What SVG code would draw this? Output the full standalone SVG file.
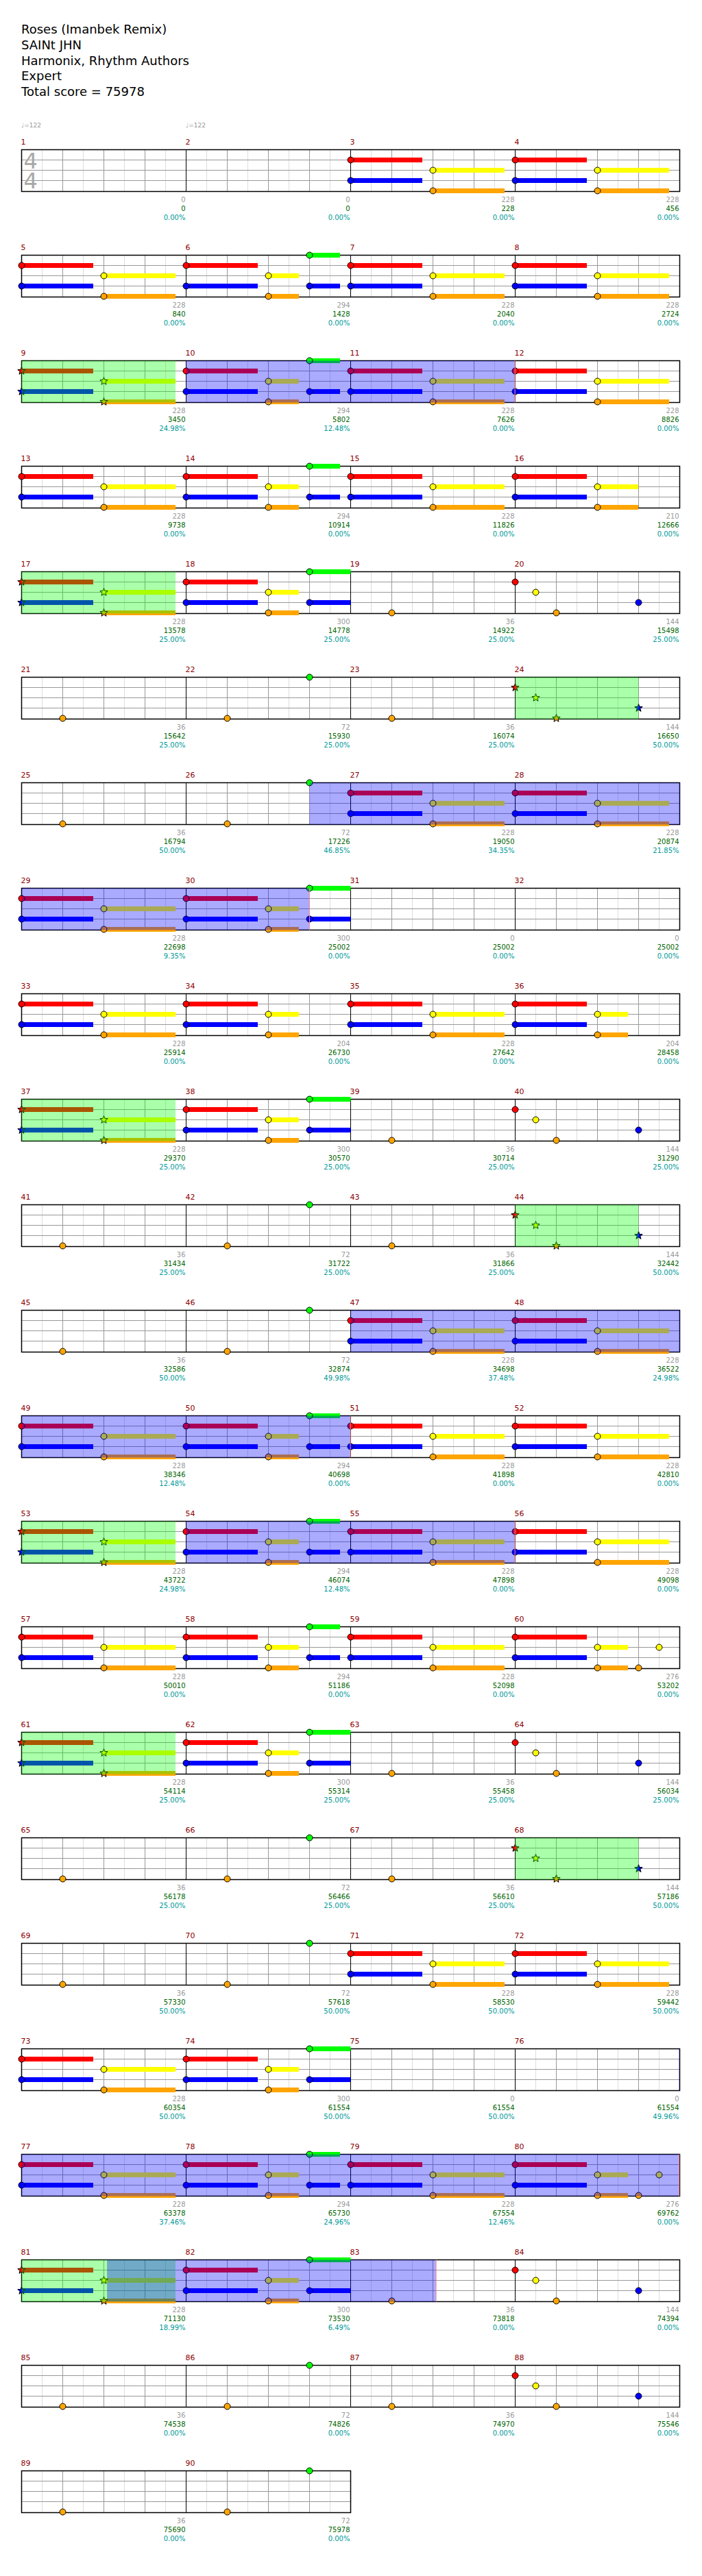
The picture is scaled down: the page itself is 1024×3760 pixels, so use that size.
<svg xmlns="http://www.w3.org/2000/svg" xmlns:xlink="http://www.w3.org/1999/xlink" width="1024" height="3760" viewBox="0 0 1024 3760">
<style>
text{font-family:"DejaVu Sans","Liberation Sans",sans-serif}
.hd{font-size:18px;fill:#000}
.tm{font-size:9px;fill:#999}
.ts{font-size:32px;fill:#a8a8a8}
.mn{font-size:11px;fill:#8b0000}
.s1,.s2,.s3{font-size:10px;text-anchor:end}
.s1{fill:#999}
.s2{fill:#006400}
.s3{fill:#009999}
.lt{stroke:#ddd;stroke-width:1;fill:none}
.dk{stroke:#999;stroke-width:1;fill:none}
.bar{stroke:#000;stroke-width:1;fill:none}
.frame{fill:none;stroke:#000;stroke-width:1.5}
.G{fill:#0f0}.R{fill:#f00}.Y{fill:#ff0}.B{fill:#00f}.O{fill:#ffa500}
circle,.st{stroke:#000;stroke-width:1}
.sp{fill:#0f0;fill-opacity:0.333}
.act{fill:#00f;fill-opacity:0.333}
.ae{stroke:#f88;stroke-width:1}
</style>
<defs>
<path id="star" d="M0,-6L1.47,-2.02L5.71,-1.85L2.38,0.77L3.53,4.85L0,2.5L-3.53,4.85L-2.38,0.77L-5.71,-1.85L-1.47,-2.02Z"/>
<g id="mg">
<path class="lt" d="M30 0V61M90 0V61M150 0V61M210 0V61"/>
<path class="dk" d="M60 0V61M120 0V61M180 0V61M0 15H240M0 30H240M0 45H240"/>
</g>
<g id="grid4">
<use href="#mg"/><use href="#mg" x="240"/><use href="#mg" x="480"/><use href="#mg" x="720"/>
<path class="bar" d="M240 0V61M480 0V61M720 0V61"/>
<rect class="frame" x="0" y="0" width="960" height="61"/>
</g>
<g id="grid2">
<use href="#mg"/><use href="#mg" x="240"/>
<path class="bar" d="M240 0V61"/>
<rect class="frame" x="0" y="0" width="480" height="61"/>
</g>
<g id="susA">
<rect class="R" x="0" y="11.5" width="104.5" height="7"/>
<rect class="B" x="0" y="41.5" width="104.5" height="7"/>
<rect class="Y" x="120" y="26.5" width="104.5" height="7"/>
<rect class="O" x="120" y="56.5" width="104.5" height="7"/>
</g>
<g id="pA">
<use href="#susA"/>
<circle class="R" cx="0" cy="15" r="4.5"/>
<circle class="B" cx="0" cy="45" r="4.5"/>
<circle class="Y" cx="120" cy="30" r="4.5"/>
<circle class="O" cx="120" cy="60" r="4.5"/>
</g>
<g id="pAs">
<use href="#susA"/>
<use href="#star" class="R st" x="0" y="15"/>
<use href="#star" class="B st" x="0" y="45"/>
<use href="#star" class="Y st" x="120" y="30"/>
<use href="#star" class="O st" x="120" y="60"/>
</g>
<g id="pRB">
<rect class="R" x="0" y="11.5" width="104.5" height="7"/>
<rect class="B" x="0" y="41.5" width="104.5" height="7"/>
<circle class="R" cx="0" cy="15" r="4.5"/>
<circle class="B" cx="0" cy="45" r="4.5"/>
</g>
<g id="pYO">
<rect class="Y" x="120" y="26.5" width="44.5" height="7"/>
<rect class="O" x="120" y="56.5" width="44.5" height="7"/>
<circle class="Y" cx="120" cy="30" r="4.5"/>
<circle class="O" cx="120" cy="60" r="4.5"/>
</g>
<g id="pB">
<use href="#pRB"/><use href="#pYO"/>
<rect class="G" x="180" y="-3.5" width="44.5" height="7"/>
<rect class="B" x="180" y="41.5" width="44.5" height="7"/>
<circle class="G" cx="180" cy="0" r="4.5"/>
<circle class="B" cx="180" cy="45" r="4.5"/>
</g>
<g id="pB2">
<use href="#pRB"/><use href="#pYO"/>
<rect class="G" x="180" y="-3.5" width="60" height="7"/>
<rect class="B" x="180" y="41.5" width="60" height="7"/>
<circle class="G" cx="180" cy="0" r="4.5"/>
<circle class="B" cx="180" cy="45" r="4.5"/>
</g>
<g id="pC34">
<use href="#pRB"/><use href="#pYO"/>
</g>
<g id="pC16">
<use href="#pRB"/>
<rect class="Y" x="120" y="26.5" width="59.5" height="7"/>
<rect class="O" x="120" y="56.5" width="59.5" height="7"/>
<circle class="Y" cx="120" cy="30" r="4.5"/>
<circle class="O" cx="120" cy="60" r="4.5"/>
</g>
<g id="pG">
<use href="#pRB"/><use href="#pYO"/>
<circle class="O" cx="180" cy="60" r="4.5"/>
<circle class="Y" cx="210" cy="30" r="4.5"/>
</g>
<g id="pD">
<circle class="R" cx="0" cy="15" r="4.5"/>
<circle class="Y" cx="30" cy="30" r="4.5"/>
<circle class="O" cx="60" cy="60" r="4.5"/>
<circle class="B" cx="180" cy="45" r="4.5"/>
</g>
<g id="pDs">
<use href="#star" class="R st" x="0" y="15"/>
<use href="#star" class="Y st" x="30" y="30"/>
<use href="#star" class="O st" x="60" y="60"/>
<use href="#star" class="B st" x="180" y="45"/>
</g>
<g id="pE"><circle class="O" cx="60" cy="60" r="4.5"/></g>
<g id="pF"><circle class="O" cx="60" cy="60" r="4.5"/><circle class="G" cx="180" cy="0" r="4.5"/></g>
</defs>
<rect width="1024" height="3760" fill="#fff"/>
<g id="header">
<text class="hd" x="31" y="49">Roses (Imanbek Remix)</text>
<text class="hd" x="31" y="72">SAINt JHN</text>
<text class="hd" x="31" y="94.5">Harmonix, Rhythm Authors</text>
<text class="hd" x="31" y="117">Expert</text>
<text class="hd" x="31" y="140">Total score = 75978</text>
<text class="tm" x="31" y="186">♩=122</text>
<text class="tm" x="271" y="186">♩=122</text>
</g>
<g id="connectors"></g>

<g id="row1" transform="translate(31.5,218.5)">
<use href="#grid4"/>
<text class="ts"><tspan x="3" y="27.3">4</tspan><tspan x="3" y="56.5">4</tspan></text>
<g id="m1"><text class="mn" x="-1" y="-8">1</text><text class="s1" x="239" y="76">0</text><text class="s2" x="239" y="89">0</text><text class="s3" x="239" y="102">0.00%</text></g>
<g id="m2" transform="translate(240,0)"><text class="mn" x="-1" y="-8">2</text><text class="s1" x="239" y="76">0</text><text class="s2" x="239" y="89">0</text><text class="s3" x="239" y="102">0.00%</text></g>
<g id="m3" transform="translate(480,0)"><use href="#pA"/><text class="mn" x="-1" y="-8">3</text><text class="s1" x="239" y="76">228</text><text class="s2" x="239" y="89">228</text><text class="s3" x="239" y="102">0.00%</text></g>
<g id="m4" transform="translate(720,0)"><use href="#pA"/><text class="mn" x="-1" y="-8">4</text><text class="s1" x="239" y="76">228</text><text class="s2" x="239" y="89">456</text><text class="s3" x="239" y="102">0.00%</text></g>
</g>

<g id="row2" transform="translate(31.5,372.5)">
<use href="#grid4"/>
<g id="m5"><use href="#pA"/><text class="mn" x="-1" y="-8">5</text><text class="s1" x="239" y="76">228</text><text class="s2" x="239" y="89">840</text><text class="s3" x="239" y="102">0.00%</text></g>
<g id="m6" transform="translate(240,0)"><use href="#pB"/><text class="mn" x="-1" y="-8">6</text><text class="s1" x="239" y="76">294</text><text class="s2" x="239" y="89">1428</text><text class="s3" x="239" y="102">0.00%</text></g>
<g id="m7" transform="translate(480,0)"><use href="#pA"/><text class="mn" x="-1" y="-8">7</text><text class="s1" x="239" y="76">228</text><text class="s2" x="239" y="89">2040</text><text class="s3" x="239" y="102">0.00%</text></g>
<g id="m8" transform="translate(720,0)"><use href="#pA"/><text class="mn" x="-1" y="-8">8</text><text class="s1" x="239" y="76">228</text><text class="s2" x="239" y="89">2724</text><text class="s3" x="239" y="102">0.00%</text></g>
</g>

<g id="row3" transform="translate(31.5,526.5)">
<use href="#grid4"/>
<g id="m9"><use href="#pAs"/><text class="mn" x="-1" y="-8">9</text><text class="s1" x="239" y="76">228</text><text class="s2" x="239" y="89">3450</text><text class="s3" x="239" y="102">24.98%</text></g>
<g id="m10" transform="translate(240,0)"><use href="#pB"/><text class="mn" x="-1" y="-8">10</text><text class="s1" x="239" y="76">294</text><text class="s2" x="239" y="89">5802</text><text class="s3" x="239" y="102">12.48%</text></g>
<g id="m11" transform="translate(480,0)"><use href="#pA"/><text class="mn" x="-1" y="-8">11</text><text class="s1" x="239" y="76">228</text><text class="s2" x="239" y="89">7626</text><text class="s3" x="239" y="102">0.00%</text></g>
<g id="m12" transform="translate(720,0)"><use href="#pA"/><text class="mn" x="-1" y="-8">12</text><text class="s1" x="239" y="76">228</text><text class="s2" x="239" y="89">8826</text><text class="s3" x="239" y="102">0.00%</text></g>
<rect class="sp" x="0" y="0" width="224.5" height="61"/>
<rect class="act" x="240" y="0" width="479.6" height="61"/>
<line class="ae" x1="719.6" y1="0" x2="719.6" y2="61"/>
</g>

<g id="row4" transform="translate(31.5,680.5)">
<use href="#grid4"/>
<g id="m13"><use href="#pA"/><text class="mn" x="-1" y="-8">13</text><text class="s1" x="239" y="76">228</text><text class="s2" x="239" y="89">9738</text><text class="s3" x="239" y="102">0.00%</text></g>
<g id="m14" transform="translate(240,0)"><use href="#pB"/><text class="mn" x="-1" y="-8">14</text><text class="s1" x="239" y="76">294</text><text class="s2" x="239" y="89">10914</text><text class="s3" x="239" y="102">0.00%</text></g>
<g id="m15" transform="translate(480,0)"><use href="#pA"/><text class="mn" x="-1" y="-8">15</text><text class="s1" x="239" y="76">228</text><text class="s2" x="239" y="89">11826</text><text class="s3" x="239" y="102">0.00%</text></g>
<g id="m16" transform="translate(720,0)"><use href="#pC16"/><text class="mn" x="-1" y="-8">16</text><text class="s1" x="239" y="76">210</text><text class="s2" x="239" y="89">12666</text><text class="s3" x="239" y="102">0.00%</text></g>
</g>

<g id="row5" transform="translate(31.5,834.5)">
<use href="#grid4"/>
<g id="m17"><use href="#pAs"/><text class="mn" x="-1" y="-8">17</text><text class="s1" x="239" y="76">228</text><text class="s2" x="239" y="89">13578</text><text class="s3" x="239" y="102">25.00%</text></g>
<g id="m18" transform="translate(240,0)"><use href="#pB2"/><text class="mn" x="-1" y="-8">18</text><text class="s1" x="239" y="76">300</text><text class="s2" x="239" y="89">14778</text><text class="s3" x="239" y="102">25.00%</text></g>
<g id="m19" transform="translate(480,0)"><use href="#pE"/><text class="mn" x="-1" y="-8">19</text><text class="s1" x="239" y="76">36</text><text class="s2" x="239" y="89">14922</text><text class="s3" x="239" y="102">25.00%</text></g>
<g id="m20" transform="translate(720,0)"><use href="#pD"/><text class="mn" x="-1" y="-8">20</text><text class="s1" x="239" y="76">144</text><text class="s2" x="239" y="89">15498</text><text class="s3" x="239" y="102">25.00%</text></g>
<rect class="sp" x="0" y="0" width="224.5" height="61"/>
</g>

<g id="row6" transform="translate(31.5,988.5)">
<use href="#grid4"/>
<g id="m21"><use href="#pE"/><text class="mn" x="-1" y="-8">21</text><text class="s1" x="239" y="76">36</text><text class="s2" x="239" y="89">15642</text><text class="s3" x="239" y="102">25.00%</text></g>
<g id="m22" transform="translate(240,0)"><use href="#pF"/><text class="mn" x="-1" y="-8">22</text><text class="s1" x="239" y="76">72</text><text class="s2" x="239" y="89">15930</text><text class="s3" x="239" y="102">25.00%</text></g>
<g id="m23" transform="translate(480,0)"><use href="#pE"/><text class="mn" x="-1" y="-8">23</text><text class="s1" x="239" y="76">36</text><text class="s2" x="239" y="89">16074</text><text class="s3" x="239" y="102">25.00%</text></g>
<g id="m24" transform="translate(720,0)"><use href="#pDs"/><text class="mn" x="-1" y="-8">24</text><text class="s1" x="239" y="76">144</text><text class="s2" x="239" y="89">16650</text><text class="s3" x="239" y="102">50.00%</text></g>
<rect class="sp" x="720" y="0" width="180" height="61"/>
</g>

<g id="row7" transform="translate(31.5,1142.5)">
<use href="#grid4"/>
<g id="m25"><use href="#pE"/><text class="mn" x="-1" y="-8">25</text><text class="s1" x="239" y="76">36</text><text class="s2" x="239" y="89">16794</text><text class="s3" x="239" y="102">50.00%</text></g>
<g id="m26" transform="translate(240,0)"><use href="#pF"/><text class="mn" x="-1" y="-8">26</text><text class="s1" x="239" y="76">72</text><text class="s2" x="239" y="89">17226</text><text class="s3" x="239" y="102">46.85%</text></g>
<g id="m27" transform="translate(480,0)"><use href="#pA"/><text class="mn" x="-1" y="-8">27</text><text class="s1" x="239" y="76">228</text><text class="s2" x="239" y="89">19050</text><text class="s3" x="239" y="102">34.35%</text></g>
<g id="m28" transform="translate(720,0)"><use href="#pA"/><text class="mn" x="-1" y="-8">28</text><text class="s1" x="239" y="76">228</text><text class="s2" x="239" y="89">20874</text><text class="s3" x="239" y="102">21.85%</text></g>
<rect class="act" x="420" y="0" width="540" height="61"/>
</g>

<g id="row8" transform="translate(31.5,1296.5)">
<use href="#grid4"/>
<g id="m29"><use href="#pA"/><text class="mn" x="-1" y="-8">29</text><text class="s1" x="239" y="76">228</text><text class="s2" x="239" y="89">22698</text><text class="s3" x="239" y="102">9.35%</text></g>
<g id="m30" transform="translate(240,0)"><use href="#pB2"/><text class="mn" x="-1" y="-8">30</text><text class="s1" x="239" y="76">300</text><text class="s2" x="239" y="89">25002</text><text class="s3" x="239" y="102">0.00%</text></g>
<g id="m31" transform="translate(480,0)"><text class="mn" x="-1" y="-8">31</text><text class="s1" x="239" y="76">0</text><text class="s2" x="239" y="89">25002</text><text class="s3" x="239" y="102">0.00%</text></g>
<g id="m32" transform="translate(720,0)"><text class="mn" x="-1" y="-8">32</text><text class="s1" x="239" y="76">0</text><text class="s2" x="239" y="89">25002</text><text class="s3" x="239" y="102">0.00%</text></g>
<rect class="act" x="0" y="0" width="420" height="61"/>
<line class="ae" x1="420" y1="0" x2="420" y2="61"/>
</g>

<g id="row9" transform="translate(31.5,1450.5)">
<use href="#grid4"/>
<g id="m33"><use href="#pA"/><text class="mn" x="-1" y="-8">33</text><text class="s1" x="239" y="76">228</text><text class="s2" x="239" y="89">25914</text><text class="s3" x="239" y="102">0.00%</text></g>
<g id="m34" transform="translate(240,0)"><use href="#pC34"/><text class="mn" x="-1" y="-8">34</text><text class="s1" x="239" y="76">204</text><text class="s2" x="239" y="89">26730</text><text class="s3" x="239" y="102">0.00%</text></g>
<g id="m35" transform="translate(480,0)"><use href="#pA"/><text class="mn" x="-1" y="-8">35</text><text class="s1" x="239" y="76">228</text><text class="s2" x="239" y="89">27642</text><text class="s3" x="239" y="102">0.00%</text></g>
<g id="m36" transform="translate(720,0)"><use href="#pC34"/><text class="mn" x="-1" y="-8">36</text><text class="s1" x="239" y="76">204</text><text class="s2" x="239" y="89">28458</text><text class="s3" x="239" y="102">0.00%</text></g>
</g>

<g id="row10" transform="translate(31.5,1604.5)">
<use href="#grid4"/>
<g id="m37"><use href="#pAs"/><text class="mn" x="-1" y="-8">37</text><text class="s1" x="239" y="76">228</text><text class="s2" x="239" y="89">29370</text><text class="s3" x="239" y="102">25.00%</text></g>
<g id="m38" transform="translate(240,0)"><use href="#pB2"/><text class="mn" x="-1" y="-8">38</text><text class="s1" x="239" y="76">300</text><text class="s2" x="239" y="89">30570</text><text class="s3" x="239" y="102">25.00%</text></g>
<g id="m39" transform="translate(480,0)"><use href="#pE"/><text class="mn" x="-1" y="-8">39</text><text class="s1" x="239" y="76">36</text><text class="s2" x="239" y="89">30714</text><text class="s3" x="239" y="102">25.00%</text></g>
<g id="m40" transform="translate(720,0)"><use href="#pD"/><text class="mn" x="-1" y="-8">40</text><text class="s1" x="239" y="76">144</text><text class="s2" x="239" y="89">31290</text><text class="s3" x="239" y="102">25.00%</text></g>
<rect class="sp" x="0" y="0" width="224.5" height="61"/>
</g>

<g id="row11" transform="translate(31.5,1758.5)">
<use href="#grid4"/>
<g id="m41"><use href="#pE"/><text class="mn" x="-1" y="-8">41</text><text class="s1" x="239" y="76">36</text><text class="s2" x="239" y="89">31434</text><text class="s3" x="239" y="102">25.00%</text></g>
<g id="m42" transform="translate(240,0)"><use href="#pF"/><text class="mn" x="-1" y="-8">42</text><text class="s1" x="239" y="76">72</text><text class="s2" x="239" y="89">31722</text><text class="s3" x="239" y="102">25.00%</text></g>
<g id="m43" transform="translate(480,0)"><use href="#pE"/><text class="mn" x="-1" y="-8">43</text><text class="s1" x="239" y="76">36</text><text class="s2" x="239" y="89">31866</text><text class="s3" x="239" y="102">25.00%</text></g>
<g id="m44" transform="translate(720,0)"><use href="#pDs"/><text class="mn" x="-1" y="-8">44</text><text class="s1" x="239" y="76">144</text><text class="s2" x="239" y="89">32442</text><text class="s3" x="239" y="102">50.00%</text></g>
<rect class="sp" x="720" y="0" width="180" height="61"/>
</g>

<g id="row12" transform="translate(31.5,1912.5)">
<use href="#grid4"/>
<g id="m45"><use href="#pE"/><text class="mn" x="-1" y="-8">45</text><text class="s1" x="239" y="76">36</text><text class="s2" x="239" y="89">32586</text><text class="s3" x="239" y="102">50.00%</text></g>
<g id="m46" transform="translate(240,0)"><use href="#pF"/><text class="mn" x="-1" y="-8">46</text><text class="s1" x="239" y="76">72</text><text class="s2" x="239" y="89">32874</text><text class="s3" x="239" y="102">49.98%</text></g>
<g id="m47" transform="translate(480,0)"><use href="#pA"/><text class="mn" x="-1" y="-8">47</text><text class="s1" x="239" y="76">228</text><text class="s2" x="239" y="89">34698</text><text class="s3" x="239" y="102">37.48%</text></g>
<g id="m48" transform="translate(720,0)"><use href="#pA"/><text class="mn" x="-1" y="-8">48</text><text class="s1" x="239" y="76">228</text><text class="s2" x="239" y="89">36522</text><text class="s3" x="239" y="102">24.98%</text></g>
<rect class="act" x="480" y="0" width="480" height="61"/>
</g>

<g id="row13" transform="translate(31.5,2066.5)">
<use href="#grid4"/>
<g id="m49"><use href="#pA"/><text class="mn" x="-1" y="-8">49</text><text class="s1" x="239" y="76">228</text><text class="s2" x="239" y="89">38346</text><text class="s3" x="239" y="102">12.48%</text></g>
<g id="m50" transform="translate(240,0)"><use href="#pB"/><text class="mn" x="-1" y="-8">50</text><text class="s1" x="239" y="76">294</text><text class="s2" x="239" y="89">40698</text><text class="s3" x="239" y="102">0.00%</text></g>
<g id="m51" transform="translate(480,0)"><use href="#pA"/><text class="mn" x="-1" y="-8">51</text><text class="s1" x="239" y="76">228</text><text class="s2" x="239" y="89">41898</text><text class="s3" x="239" y="102">0.00%</text></g>
<g id="m52" transform="translate(720,0)"><use href="#pA"/><text class="mn" x="-1" y="-8">52</text><text class="s1" x="239" y="76">228</text><text class="s2" x="239" y="89">42810</text><text class="s3" x="239" y="102">0.00%</text></g>
<rect class="act" x="0" y="0" width="479.6" height="61"/>
<line class="ae" x1="479.6" y1="0" x2="479.6" y2="61"/>
</g>

<g id="row14" transform="translate(31.5,2220.5)">
<use href="#grid4"/>
<g id="m53"><use href="#pAs"/><text class="mn" x="-1" y="-8">53</text><text class="s1" x="239" y="76">228</text><text class="s2" x="239" y="89">43722</text><text class="s3" x="239" y="102">24.98%</text></g>
<g id="m54" transform="translate(240,0)"><use href="#pB"/><text class="mn" x="-1" y="-8">54</text><text class="s1" x="239" y="76">294</text><text class="s2" x="239" y="89">46074</text><text class="s3" x="239" y="102">12.48%</text></g>
<g id="m55" transform="translate(480,0)"><use href="#pA"/><text class="mn" x="-1" y="-8">55</text><text class="s1" x="239" y="76">228</text><text class="s2" x="239" y="89">47898</text><text class="s3" x="239" y="102">0.00%</text></g>
<g id="m56" transform="translate(720,0)"><use href="#pA"/><text class="mn" x="-1" y="-8">56</text><text class="s1" x="239" y="76">228</text><text class="s2" x="239" y="89">49098</text><text class="s3" x="239" y="102">0.00%</text></g>
<rect class="sp" x="0" y="0" width="224.5" height="61"/>
<rect class="act" x="240" y="0" width="479.6" height="61"/>
<line class="ae" x1="719.6" y1="0" x2="719.6" y2="61"/>
</g>

<g id="row15" transform="translate(31.5,2374.5)">
<use href="#grid4"/>
<g id="m57"><use href="#pA"/><text class="mn" x="-1" y="-8">57</text><text class="s1" x="239" y="76">228</text><text class="s2" x="239" y="89">50010</text><text class="s3" x="239" y="102">0.00%</text></g>
<g id="m58" transform="translate(240,0)"><use href="#pB"/><text class="mn" x="-1" y="-8">58</text><text class="s1" x="239" y="76">294</text><text class="s2" x="239" y="89">51186</text><text class="s3" x="239" y="102">0.00%</text></g>
<g id="m59" transform="translate(480,0)"><use href="#pA"/><text class="mn" x="-1" y="-8">59</text><text class="s1" x="239" y="76">228</text><text class="s2" x="239" y="89">52098</text><text class="s3" x="239" y="102">0.00%</text></g>
<g id="m60" transform="translate(720,0)"><use href="#pG"/><text class="mn" x="-1" y="-8">60</text><text class="s1" x="239" y="76">276</text><text class="s2" x="239" y="89">53202</text><text class="s3" x="239" y="102">0.00%</text></g>
</g>

<g id="row16" transform="translate(31.5,2528.5)">
<use href="#grid4"/>
<g id="m61"><use href="#pAs"/><text class="mn" x="-1" y="-8">61</text><text class="s1" x="239" y="76">228</text><text class="s2" x="239" y="89">54114</text><text class="s3" x="239" y="102">25.00%</text></g>
<g id="m62" transform="translate(240,0)"><use href="#pB2"/><text class="mn" x="-1" y="-8">62</text><text class="s1" x="239" y="76">300</text><text class="s2" x="239" y="89">55314</text><text class="s3" x="239" y="102">25.00%</text></g>
<g id="m63" transform="translate(480,0)"><use href="#pE"/><text class="mn" x="-1" y="-8">63</text><text class="s1" x="239" y="76">36</text><text class="s2" x="239" y="89">55458</text><text class="s3" x="239" y="102">25.00%</text></g>
<g id="m64" transform="translate(720,0)"><use href="#pD"/><text class="mn" x="-1" y="-8">64</text><text class="s1" x="239" y="76">144</text><text class="s2" x="239" y="89">56034</text><text class="s3" x="239" y="102">25.00%</text></g>
<rect class="sp" x="0" y="0" width="224.5" height="61"/>
</g>

<g id="row17" transform="translate(31.5,2682.5)">
<use href="#grid4"/>
<g id="m65"><use href="#pE"/><text class="mn" x="-1" y="-8">65</text><text class="s1" x="239" y="76">36</text><text class="s2" x="239" y="89">56178</text><text class="s3" x="239" y="102">25.00%</text></g>
<g id="m66" transform="translate(240,0)"><use href="#pF"/><text class="mn" x="-1" y="-8">66</text><text class="s1" x="239" y="76">72</text><text class="s2" x="239" y="89">56466</text><text class="s3" x="239" y="102">25.00%</text></g>
<g id="m67" transform="translate(480,0)"><use href="#pE"/><text class="mn" x="-1" y="-8">67</text><text class="s1" x="239" y="76">36</text><text class="s2" x="239" y="89">56610</text><text class="s3" x="239" y="102">25.00%</text></g>
<g id="m68" transform="translate(720,0)"><use href="#pDs"/><text class="mn" x="-1" y="-8">68</text><text class="s1" x="239" y="76">144</text><text class="s2" x="239" y="89">57186</text><text class="s3" x="239" y="102">50.00%</text></g>
<rect class="sp" x="720" y="0" width="180" height="61"/>
</g>

<g id="row18" transform="translate(31.5,2836.5)">
<use href="#grid4"/>
<g id="m69"><use href="#pE"/><text class="mn" x="-1" y="-8">69</text><text class="s1" x="239" y="76">36</text><text class="s2" x="239" y="89">57330</text><text class="s3" x="239" y="102">50.00%</text></g>
<g id="m70" transform="translate(240,0)"><use href="#pF"/><text class="mn" x="-1" y="-8">70</text><text class="s1" x="239" y="76">72</text><text class="s2" x="239" y="89">57618</text><text class="s3" x="239" y="102">50.00%</text></g>
<g id="m71" transform="translate(480,0)"><use href="#pA"/><text class="mn" x="-1" y="-8">71</text><text class="s1" x="239" y="76">228</text><text class="s2" x="239" y="89">58530</text><text class="s3" x="239" y="102">50.00%</text></g>
<g id="m72" transform="translate(720,0)"><use href="#pA"/><text class="mn" x="-1" y="-8">72</text><text class="s1" x="239" y="76">228</text><text class="s2" x="239" y="89">59442</text><text class="s3" x="239" y="102">50.00%</text></g>
</g>

<g id="row19" transform="translate(31.5,2990.5)">
<use href="#grid4"/>
<g id="m73"><use href="#pA"/><text class="mn" x="-1" y="-8">73</text><text class="s1" x="239" y="76">228</text><text class="s2" x="239" y="89">60354</text><text class="s3" x="239" y="102">50.00%</text></g>
<g id="m74" transform="translate(240,0)"><use href="#pB2"/><text class="mn" x="-1" y="-8">74</text><text class="s1" x="239" y="76">300</text><text class="s2" x="239" y="89">61554</text><text class="s3" x="239" y="102">50.00%</text></g>
<g id="m75" transform="translate(480,0)"><text class="mn" x="-1" y="-8">75</text><text class="s1" x="239" y="76">0</text><text class="s2" x="239" y="89">61554</text><text class="s3" x="239" y="102">50.00%</text></g>
<g id="m76" transform="translate(720,0)"><text class="mn" x="-1" y="-8">76</text><text class="s1" x="239" y="76">0</text><text class="s2" x="239" y="89">61554</text><text class="s3" x="239" y="102">49.96%</text></g>
<rect class="act" x="959" y="0" width="1" height="61"/>
</g>

<g id="row20" transform="translate(31.5,3144.5)">
<use href="#grid4"/>
<g id="m77"><use href="#pA"/><text class="mn" x="-1" y="-8">77</text><text class="s1" x="239" y="76">228</text><text class="s2" x="239" y="89">63378</text><text class="s3" x="239" y="102">37.46%</text></g>
<g id="m78" transform="translate(240,0)"><use href="#pB"/><text class="mn" x="-1" y="-8">78</text><text class="s1" x="239" y="76">294</text><text class="s2" x="239" y="89">65730</text><text class="s3" x="239" y="102">24.96%</text></g>
<g id="m79" transform="translate(480,0)"><use href="#pA"/><text class="mn" x="-1" y="-8">79</text><text class="s1" x="239" y="76">228</text><text class="s2" x="239" y="89">67554</text><text class="s3" x="239" y="102">12.46%</text></g>
<g id="m80" transform="translate(720,0)"><use href="#pG"/><text class="mn" x="-1" y="-8">80</text><text class="s1" x="239" y="76">276</text><text class="s2" x="239" y="89">69762</text><text class="s3" x="239" y="102">0.00%</text></g>
<rect class="act" x="0" y="0" width="959.2" height="61"/>
<line class="ae" x1="959.2" y1="0" x2="959.2" y2="61"/>
</g>

<g id="row21" transform="translate(31.5,3298.5)">
<use href="#grid4"/>
<g id="m81"><use href="#pAs"/><text class="mn" x="-1" y="-8">81</text><text class="s1" x="239" y="76">228</text><text class="s2" x="239" y="89">71130</text><text class="s3" x="239" y="102">18.99%</text></g>
<g id="m82" transform="translate(240,0)"><use href="#pB2"/><text class="mn" x="-1" y="-8">82</text><text class="s1" x="239" y="76">300</text><text class="s2" x="239" y="89">73530</text><text class="s3" x="239" y="102">6.49%</text></g>
<g id="m83" transform="translate(480,0)"><use href="#pE"/><text class="mn" x="-1" y="-8">83</text><text class="s1" x="239" y="76">36</text><text class="s2" x="239" y="89">73818</text><text class="s3" x="239" y="102">0.00%</text></g>
<g id="m84" transform="translate(720,0)"><use href="#pD"/><text class="mn" x="-1" y="-8">84</text><text class="s1" x="239" y="76">144</text><text class="s2" x="239" y="89">74394</text><text class="s3" x="239" y="102">0.00%</text></g>
<rect class="sp" x="0" y="0" width="224.5" height="61"/>
<rect class="act" x="124.6" y="0" width="480" height="61"/>
<line class="ae" x1="604.6" y1="0" x2="604.6" y2="61"/>
</g>

<g id="row22" transform="translate(31.5,3452.5)">
<use href="#grid4"/>
<g id="m85"><use href="#pE"/><text class="mn" x="-1" y="-8">85</text><text class="s1" x="239" y="76">36</text><text class="s2" x="239" y="89">74538</text><text class="s3" x="239" y="102">0.00%</text></g>
<g id="m86" transform="translate(240,0)"><use href="#pF"/><text class="mn" x="-1" y="-8">86</text><text class="s1" x="239" y="76">72</text><text class="s2" x="239" y="89">74826</text><text class="s3" x="239" y="102">0.00%</text></g>
<g id="m87" transform="translate(480,0)"><use href="#pE"/><text class="mn" x="-1" y="-8">87</text><text class="s1" x="239" y="76">36</text><text class="s2" x="239" y="89">74970</text><text class="s3" x="239" y="102">0.00%</text></g>
<g id="m88" transform="translate(720,0)"><use href="#pD"/><text class="mn" x="-1" y="-8">88</text><text class="s1" x="239" y="76">144</text><text class="s2" x="239" y="89">75546</text><text class="s3" x="239" y="102">0.00%</text></g>
</g>

<g id="row23" transform="translate(31.5,3606.5)">
<use href="#grid2"/>
<g id="m89"><use href="#pE"/><text class="mn" x="-1" y="-8">89</text><text class="s1" x="239" y="76">36</text><text class="s2" x="239" y="89">75690</text><text class="s3" x="239" y="102">0.00%</text></g>
<g id="m90" transform="translate(240,0)"><use href="#pF"/><text class="mn" x="-1" y="-8">90</text><text class="s1" x="239" y="76">72</text><text class="s2" x="239" y="89">75978</text><text class="s3" x="239" y="102">0.00%</text></g>
</g>
</svg>
